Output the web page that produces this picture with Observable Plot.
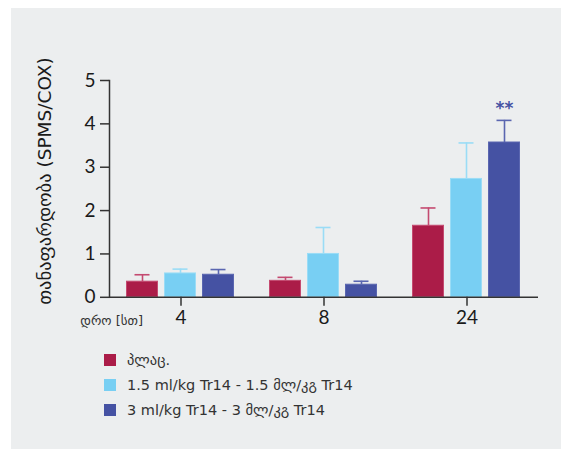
<!DOCTYPE html>
<html>
<head>
<meta charset="utf-8">
<script src="https://cdn.jsdelivr.net/npm/d3@7"></script>
<script src="https://cdn.jsdelivr.net/npm/@observablehq/plot@0.6"></script>
<style>
  html, body { margin: 0; padding: 0; background: #ffffff; }
  #panel { position: absolute; left: 11px; top: 8px; width: 550px; height: 441px; background: #eceeef; overflow: hidden; }
  #chart { position: absolute; left: 0; top: 0; }
  #legend { position: absolute; left: 93px; top: 339px; font-family: "DejaVu Sans", sans-serif; font-size: 14.5px; color: #333; }
  .item { display: flex; align-items: center; height: 25px; }
  .sw { width: 12px; height: 12px; margin-right: 11px; flex: none; }
</style>
</head>
<body>
<div id="panel">
  <div id="chart"></div>
  <div id="legend"></div>
</div>
<script>
// ---- data ----
const groups = ["4", "8", "24"];                 // time [h]
const seriesNames = ["პლაც.", "1.5 ml/kg Tr14 - 1.5 მლ/კგ Tr14", "3 ml/kg Tr14 - 3 მლ/კგ Tr14"];
const placebo      = [0.36, 0.38, 1.65];
const placeboUpper = [0.52, 0.46, 2.06];
const low          = [0.55, 1.00, 2.73];
const lowUpper     = [0.65, 1.61, 3.56];
const high         = [0.52, 0.29, 3.57];
const highUpper    = [0.64, 0.37, 4.08];
const significance = [["", "", ""], ["", "", ""], ["", "", "**"]]; // [series][group]
const yTicks = [0, 1, 2, 3, 4, 5];
const yLabel = "თანაფარდობა (SPMS/COX)";
const xLabel = "დრო [სთ]";

const fills = ["#ab1c48", "#78cff3", "#4552a3"];
const edges = ["#c44a70", "#9adcf6", "#5a66b0"];

const values = [placebo, low, high];
const uppers = [placeboUpper, lowUpper, highUpper];
const rows = [];
values.forEach((vals, s) => vals.forEach((v, g) => rows.push({
  time: groups[g], s, v, err: uppers[s][g], sig: significance[s][g]
})));

const W = 550, H = 330;
const tickFont = "Lato, 'Liberation Sans Narrow', sans-serif";
const marks = [];
for (let s = 0; s < 3; s++) {
  const d = rows.filter(r => r.s === s);
  marks.push(Plot.ruleX(d, {fx: "time", x: "s", y1: "v", y2: "err", stroke: edges[s], strokeWidth: 1.6}));
  marks.push(Plot.tickY(d, {fx: "time", x: "s", y: "err", stroke: edges[s], strokeWidth: 1.6, insetLeft: 8, insetRight: 8}));
  marks.push(Plot.barY(d, {fx: "time", x: "s", y: "v", fill: fills[s], stroke: edges[s], strokeWidth: 1}));
  marks.push(Plot.text(d.filter(r => r.sig), {fx: "time", x: "s", y: "err", text: "sig", dy: -12, fill: fills[s], fontSize: 17, fontWeight: "bold", fontFamily: "DejaVu Sans"}));
}
marks.push(Plot.ruleY([0], {stroke: "#333", strokeWidth: 1.5}));
marks.push(Plot.frame({anchor: "left", facetAnchor: "left", stroke: "#333", strokeWidth: 1.5}));
marks.push(Plot.axisY({ticks: yTicks, tickFormat: d3.format("d"), tickSize: 9, tickPadding: 5, stroke: "#333", strokeWidth: 1.5, label: null,
  fontSize: 19, fill: "#1a1a1a", fontFamily: tickFont}));
marks.push(Plot.axisFx({anchor: "bottom", tickSize: 9, tickPadding: 4, label: null, fontSize: 19, fill: "#1a1a1a", stroke: "#333", strokeWidth: 1.5, fontFamily: tickFont}));

const chart = Plot.plot({
  width: W, height: H,
  marginTop: 72, marginBottom: H - 288.8, marginLeft: 97.5, marginRight: 23.5,
  style: {background: "transparent", fontFamily: tickFont, overflow: "visible"},
  fx: {domain: groups, padding: 0, axis: null},
  x: {domain: [0, 1, 2], paddingInner: 0.18, paddingOuter: 0.45, axis: null},
  y: {domain: [0, 5], axis: null},
  marks
});
document.getElementById("chart").appendChild(chart);

const svg = d3.select(chart);
svg.append("text")
  .attr("transform", "translate(35,173) rotate(-90)")
  .attr("text-anchor", "middle").attr("dominant-baseline", "middle")
  .attr("font-family", "DejaVu Sans, sans-serif").attr("font-size", 18.5).attr("fill", "#1a1a1a")
  .text(yLabel);
svg.append("text")
  .attr("x", 132).attr("y", 313)
  .attr("text-anchor", "end").attr("dominant-baseline", "middle")
  .attr("font-family", "DejaVu Sans, sans-serif").attr("font-size", 13).attr("fill", "#333")
  .text(xLabel);

const legend = d3.select("#legend");
seriesNames.forEach((name, i) => {
  const it = legend.append("div").attr("class", "item");
  it.append("div").attr("class", "sw").style("background", fills[i]);
  it.append("span").text(name);
});
</script>
</body>
</html>
